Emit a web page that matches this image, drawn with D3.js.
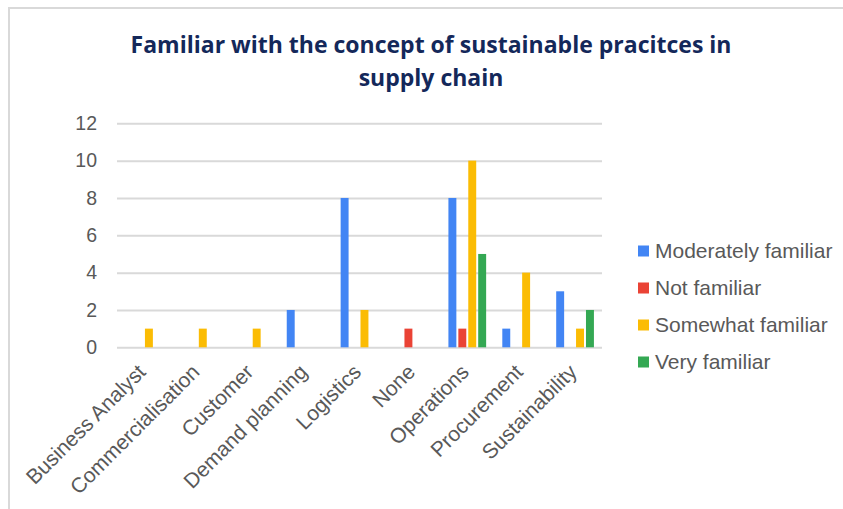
<!DOCTYPE html>
<html>
<head>
<meta charset="utf-8">
<script src="https://cdn.jsdelivr.net/npm/d3@7"></script>
<style>
  html, body { margin: 0; padding: 0; background: #fff; }
  svg { display: block; }
</style>
</head>
<body>
<svg id="chart" width="843" height="509"></svg>
<script>
// Survey results: familiarity with sustainable supply-chain practices by role
const categories = ["Business Analyst", "Commercialisation", "Customer", "Demand planning",
  "Logistics", "None", "Operations", "Procurement", "Sustainability"];
const seriesNames = ["Moderately familiar", "Not familiar", "Somewhat familiar", "Very familiar"];
const seriesColors = ["#4285F4", "#EA4335", "#FBBC04", "#34A853"];
const moderatelyFamiliar = [0, 0, 0, 2, 8, 0, 8, 1, 3];
const notFamiliar        = [0, 0, 0, 0, 0, 1, 1, 0, 0];
const somewhatFamiliar   = [1, 1, 1, 0, 2, 0, 10, 4, 1];
const veryFamiliar       = [0, 0, 0, 0, 0, 0, 5, 0, 2];
const yTicks = [0, 2, 4, 6, 8, 10, 12];
const titleLines = ["Familiar with the concept of sustainable pracitces in", "supply chain"];

const seriesValues = [moderatelyFamiliar, notFamiliar, somewhatFamiliar, veryFamiliar];

const svg = d3.select("#chart");
const W = 843, H = 509;
const plot = { left: 117, right: 602, top: 123.3, bottom: 347.3 };
const textGray = "#595959";
const gridGray = "#d9d9d9";
const labelFont = "'Liberation Sans', Arial, sans-serif";

// outer frame (open at right/bottom edges)
svg.append("path")
  .attr("d", `M9,${H} V8 H${W}`)
  .attr("fill", "none")
  .attr("stroke", "#d9d9d9")
  .attr("stroke-width", 2);

// title
const title = svg.append("text")
  .attr("text-anchor", "middle")
  .attr("font-family", "'Open Sans', 'Noto Sans', sans-serif")
  .attr("font-weight", "bold")
  .attr("font-size", 23)
  .attr("fill", "#14285a");
titleLines.forEach((line, i) => {
  title.append("tspan")
    .attr("x", 431)
    .attr("y", 53 + i * 33)
    .text(line);
});

const x0 = d3.scaleBand()
  .domain(categories)
  .range([plot.left, plot.right])
  .paddingInner(0.3)
  .paddingOuter(0.15);

const x1 = d3.scaleBand()
  .domain(seriesNames)
  .range([0, x0.bandwidth()])
  .paddingInner(0.2);

const y = d3.scaleLinear()
  .domain([0, 12])
  .range([plot.bottom, plot.top]);

const color = d3.scaleOrdinal().domain(seriesNames).range(seriesColors);

// horizontal gridlines + y tick labels
const yAxis = d3.axisLeft(y)
  .tickValues(yTicks)
  .tickSize(-(plot.right - plot.left))
  .tickPadding(20);

const yg = svg.append("g")
  .attr("transform", `translate(${plot.left},0)`)
  .call(yAxis);
yg.select(".domain").remove();
yg.selectAll(".tick line")
  .attr("stroke", gridGray)
  .attr("stroke-width", 2);
yg.selectAll(".tick text")
  .attr("font-family", labelFont)
  .attr("font-size", 19.5)
  .attr("fill", textGray);

// bars
const rows = categories.map((c, i) => ({
  category: c,
  values: seriesNames.map((s, j) => ({ series: s, value: seriesValues[j][i] }))
}));

const groups = svg.append("g")
  .selectAll("g")
  .data(rows)
  .join("g")
  .attr("transform", d => `translate(${x0(d.category)},0)`);

groups.selectAll("rect")
  .data(d => d.values.filter(v => v.value > 0))
  .join("rect")
  .attr("x", d => x1(d.series))
  .attr("width", x1.bandwidth())
  .attr("y", d => y(d.value))
  .attr("height", d => y(0) - y(d.value))
  .attr("fill", d => color(d.series));

// x axis categories, rotated labels
const xAxis = d3.axisBottom(x0).tickSize(0).tickPadding(0);
const xg = svg.append("g")
  .attr("transform", `translate(0,${plot.bottom})`)
  .call(xAxis);
xg.select(".domain").remove();
xg.selectAll(".tick text")
  .attr("font-family", labelFont)
  .attr("font-size", 21)
  .attr("fill", textGray)
  .attr("text-anchor", "end")
  .attr("dy", 0)
  .attr("y", 0)
  .attr("transform", "translate(3,26) rotate(-45)");

// legend
const legend = svg.append("g")
  .attr("transform", "translate(638,251)");
const items = legend.selectAll("g")
  .data(seriesNames)
  .join("g")
  .attr("transform", (d, i) => `translate(0,${i * 37})`);
items.append("rect")
  .attr("x", 0)
  .attr("y", -5.5)
  .attr("width", 11)
  .attr("height", 11)
  .attr("fill", d => color(d));
items.append("text")
  .attr("x", 17)
  .attr("y", 0)
  .attr("dy", "0.35em")
  .attr("font-family", labelFont)
  .attr("font-size", 21)
  .attr("fill", textGray)
  .text(d => d);
</script>
</body>
</html>
